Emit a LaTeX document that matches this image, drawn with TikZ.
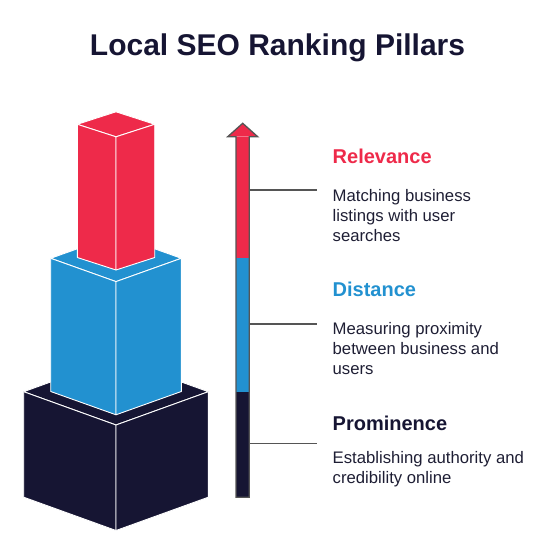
\documentclass[tikz,border=0pt]{standalone}
\usepackage{fontspec}
\setmainfont{Liberation Sans}
\usetikzlibrary{positioning}
\definecolor{pillarRed}{RGB}{238,42,74}
\definecolor{pillarBlue}{RGB}{34,145,208}
\definecolor{pillarDark}{RGB}{22,21,51}
\definecolor{barLine}{RGB}{85,85,85}
\definecolor{bodyInk}{RGB}{30,30,52}
\tikzset{
  face/.style={draw=white, line width=0.9pt, line join=round},
  tick/.style={draw=barLine, line width=1.2pt},
  title/.style={font=\fontsize{30}{34}\selectfont\bfseries, text=pillarDark, inner sep=0pt, anchor=base},
  head/.style={font=\fontsize{20}{24}\selectfont\bfseries, inner sep=0pt, anchor=base west},
  desc/.style={font=\fontsize{16.7}{20}\selectfont, text=bodyInk, inner sep=0pt, anchor=north west, align=left}
}
% one block: centre x, top y, half width, half height, height, colour
\newcommand{\pillarblock}[6]{%
  \path[face, fill=#6] (#1-#3,#2) -- (#1,#2-#4) -- (#1+#3,#2) -- (#1,#2+#4) -- cycle;
  \path[face, fill=#6] (#1-#3,#2) -- (#1,#2+#4) -- (#1,#2+#4+#5) -- (#1-#3,#2+#5) -- cycle;
  \path[face, fill=#6] (#1+#3,#2) -- (#1,#2+#4) -- (#1,#2+#4+#5) -- (#1+#3,#2+#5) -- cycle;
}

\begin{document}
\begin{tikzpicture}[x=1pt, y=-1pt]
  \useasboundingbox (0,0) rectangle (551,559);
  \node[title] (ttl) at (277.5,56) {Local SEO Ranking Pillars};

  % stacked blocks
  \pillarblock{116}{391.7}{92.3}{33.3}{105.5}{pillarDark}
  \pillarblock{116}{258.3}{65.3}{23.3}{133.2}{pillarBlue}
  \pillarblock{116}{124.3}{38.7}{12.5}{133.2}{pillarRed}

  % scale bar with arrow
  \fill[pillarDark] (236,391.7) rectangle (249.3,497.3);
  \fill[pillarBlue] (236,258.3) rectangle (249.3,391.7);
  \fill[pillarRed] (236,136.7) rectangle (249.3,258.3);
  \fill[pillarRed] (227.7,136.7) -- (242.7,123.3) -- (257.7,136.7) -- cycle;
  \draw[draw=barLine, line width=1.3pt, line join=miter]
    (236,497.3) -- (236,136.7) -- (227.7,136.7) -- (242.7,123.3)
    -- (257.7,136.7) -- (249.3,136.7) -- (249.3,497.3) -- cycle;

  \coordinate (b1) at (249.3,190);
  \coordinate (b2) at (249.3,324);
  \coordinate (b3) at (249.3,443.5);
  \coordinate (e1) at (316.7,190);
  \coordinate (e2) at (316.7,324);
  \coordinate (e3) at (316.7,443.5);
  \draw[tick] (b1) -- (e1);
  \draw[tick] (b2) -- (e2);
  \draw[tick] (b3) -- (e3);

  % labels
  \node[head, text=pillarRed] (rel) at (332.5,163.5) {Relevance};
  \node[desc] (reltxt) at (332.5,189) {Matching business\\listings with user\\searches};
  \node[head, text=pillarBlue] (dis) at (332.5,296.7) {Distance};
  \node[desc] (distxt) at (332.5,322.3) {Measuring proximity\\between business and\\users};
  \node[head, text=pillarDark] (pro) at (332.5,430) {Prominence};
  \node[desc] (protxt) at (332.5,451.3) {Establishing authority and\\credibility online};
\end{tikzpicture}
\end{document}
